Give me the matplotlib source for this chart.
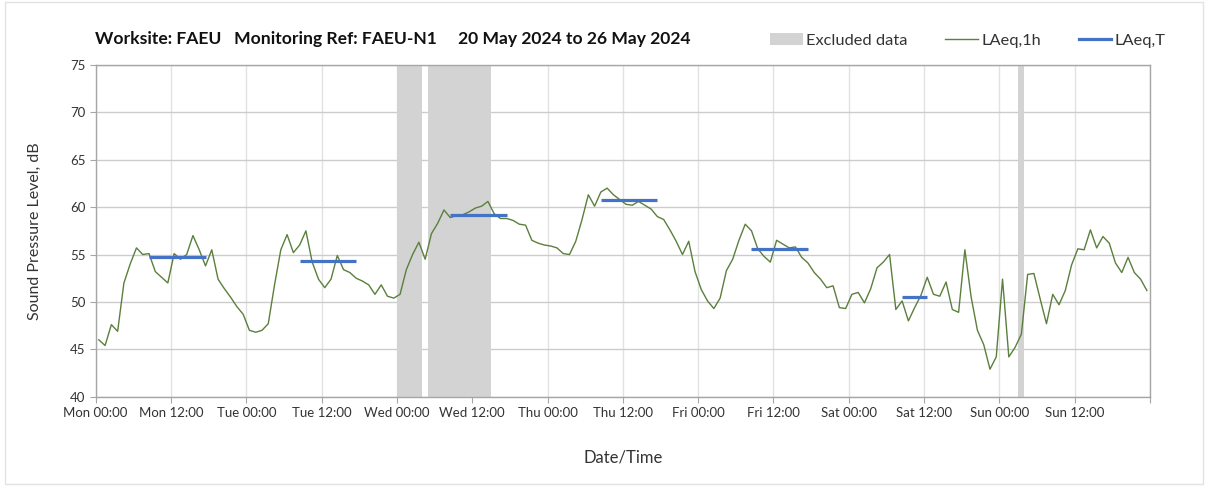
import pandas as pd
import matplotlib.pyplot as plt
import matplotlib.dates as mdates
from matplotlib.patches import Patch, Rectangle
from matplotlib.lines import Line2D

# hourly LAeq,1h values (dB), Mon 20 May 00:00 .. Sun 26 May 23:00
mon = [46.0, 45.4, 47.6, 46.9, 52.0, 54.0, 55.7, 55.0, 55.1, 53.2, 52.6, 52.0,
       55.1, 54.5, 55.0, 57.0, 55.5, 53.8, 55.5, 52.4, 51.4, 50.5, 49.5, 48.7]
tue = [47.0, 46.8, 47.0, 47.7, 51.8, 55.5, 57.1, 55.2, 56.0, 57.5, 54.2, 52.4,
       51.5, 52.4, 54.9, 53.4, 53.1, 52.5, 52.2, 51.8, 50.8, 51.8, 50.6, 50.4]
wed = [50.8, 53.4, 55.0, 56.3, 54.5, 57.2, 58.3, 59.7, 58.9, 59.1, 59.2, 59.5,
       59.9, 60.1, 60.6, 59.3, 58.8, 58.8, 58.6, 58.2, 58.1, 56.5, 56.2, 56.0]
thu = [55.9, 55.7, 55.1, 55.0, 56.4, 58.7, 61.3, 60.1, 61.6, 62.0, 61.3, 60.8,
       60.3, 60.2, 60.6, 60.2, 59.8, 59.0, 58.7, 57.6, 56.4, 55.0, 56.4, 53.2]
fri = [51.3, 50.1, 49.3, 50.4, 53.3, 54.5, 56.5, 58.2, 57.5, 55.6, 54.8, 54.2,
       56.5, 56.1, 55.7, 55.8, 54.7, 54.1, 53.1, 52.4, 51.5, 51.7, 49.4, 49.3]
sat = [50.8, 51.0, 49.9, 51.4, 53.6, 54.2, 55.0, 49.2, 50.1, 48.0, 49.4, 50.7,
       52.6, 50.8, 50.6, 52.1, 49.2, 48.9, 55.5, 50.5, 47.0, 45.5, 42.9, 44.2]
sun = [52.4, 44.2, 45.2, 46.6, 52.9, 53.0, 50.3, 47.7, 50.8, 49.7, 51.2, 53.9,
       55.6, 55.5, 57.6, 55.7, 56.9, 56.2, 54.1, 53.1, 54.7, 53.1, 52.4, 51.2]

# LAeq,T daytime values: (day, start hour, end hour, level)
laeq_t_days = ["2024-05-20", "2024-05-21", "2024-05-22", "2024-05-23", "2024-05-24", "2024-05-25"]
laeq_t_start = [8, 8, 8, 8, 8, 8]
laeq_t_end = [18, 18, 18, 18, 18, 13]
laeq_t = [54.7, 54.3, 59.2, 60.7, 55.6, 50.5]

# excluded periods
excl_start = ["2024-05-22 00:00", "2024-05-22 05:00", "2024-05-26 03:00"]
excl_end = ["2024-05-22 04:00", "2024-05-22 15:00", "2024-05-26 04:00"]

x_end = pd.Timestamp("2024-05-27")


def tick_label(x, pos):
    d = mdates.num2date(x).replace(tzinfo=None)
    if d >= x_end:
        return ""
    return d.strftime("%a %H:%M")


def main():
    plt.rcParams['font.family'] = ['Lato', 'DejaVu Sans']
    levels = mon + tue + wed + thu + fri + sat + sun
    # values are plotted at the middle of each hour
    times = pd.date_range("2024-05-20 00:30", periods=len(levels), freq="h")

    fig = plt.figure(figsize=(12.08, 4.92), dpi=100)
    ax = fig.add_axes([0.0792, 0.1937, 0.8728, 0.6743])

    for s, e in zip(excl_start, excl_end):
        ax.axvspan(pd.Timestamp(s), pd.Timestamp(e), color="#d3d3d3", lw=0, zorder=1)

    ax.plot(times, levels, color="#5b7f3c", lw=1.0, zorder=3)

    for d, a, b, v in zip(laeq_t_days, laeq_t_start, laeq_t_end, laeq_t):
        t0 = pd.Timestamp(d) + pd.Timedelta(hours=a + 0.5)
        t1 = pd.Timestamp(d) + pd.Timedelta(hours=b - 0.5)
        ax.plot([t0, t1], [v, v], color="#4472c4", lw=2.3, zorder=4, solid_capstyle="butt")

    ax.set_xlim(pd.Timestamp("2024-05-20"), x_end)
    ax.set_ylim(40, 75)
    ax.set_yticks(range(40, 76, 5))
    ax.xaxis.set_major_locator(mdates.HourLocator(byhour=[0, 12]))
    ax.xaxis.set_major_formatter(plt.FuncFormatter(tick_label))
    ax.grid(axis="y", color="#cccccc", lw=1.0, zorder=0)
    ax.grid(axis="x", color="#e2e2e2", lw=1.0, zorder=0)
    ax.set_axisbelow(True)
    for sp in ax.spines.values():
        sp.set_color("#a6a6a6")
        sp.set_linewidth(1.0)
    ax.tick_params(axis="both", colors="#a6a6a6", labelcolor="#333333", labelsize=9.5, length=4)
    ax.set_ylabel("Sound Pressure Level, dB", fontsize=11.5, color="#333333", labelpad=20)
    ax.set_xlabel("Date/Time", fontsize=12, color="#333333", labelpad=22)

    fig.text(0.079, 0.92, "Worksite: FAEU   Monitoring Ref: FAEU-N1     20 May 2024 to 26 May 2024",
             fontsize=12.6, fontweight="bold", color="#111111", va="center")

    handles = [Patch(facecolor="#d3d3d3", edgecolor="none", label="Excluded data"),
               Line2D([], [], color="#5b7f3c", lw=1.0, label="LAeq,1h"),
               Line2D([], [], color="#4472c4", lw=2.3, label="LAeq,T")]
    fig.legend(handles=handles, loc="center right", bbox_to_anchor=(0.977, 0.918), ncol=3,
               frameon=False, fontsize=11.8, handlelength=2.0, handletextpad=0.2,
               columnspacing=2.3, labelcolor="#333333")

    fig.patches.append(Rectangle((0.004, 0.016), 0.992, 0.98, transform=fig.transFigure,
                                 fill=False, edgecolor="#e3e3e3", lw=1.0))

    fig.savefig("out.png", dpi=100)


if __name__ == '__main__':
    main()
